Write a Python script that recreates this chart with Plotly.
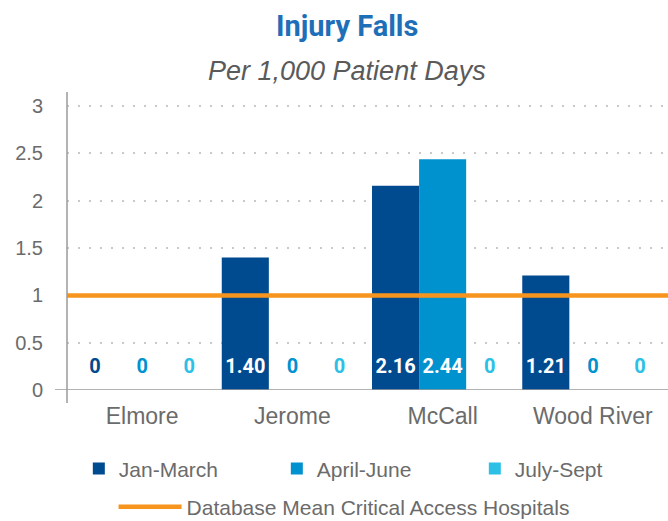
import plotly.graph_objects as go

# ---- data ----
categories = ["Elmore", "Jerome", "McCall", "Wood River"]
series_names = ["Jan-March", "April-June", "July-Sept"]
jan_march = [0, 1.40, 2.16, 1.21]
april_june = [0, 0, 2.44, 0]
july_sept = [0, 0, 0, 0]
mean_name = "Database Mean Critical Access Hospitals"
mean_value = 1.0
y_ticks = [0, 0.5, 1, 1.5, 2, 2.5, 3]
y_tick_labels = ["0", "0.5", "1", "1.5", "2", "2.5", "3"]

colors = ["#004a8f", "#0092cf", "#2dc0e6"]
series_values = [jan_march, april_june, july_sept]

label_font = "Liberation Sans Narrow, Arial Narrow, Roboto, sans-serif"
main_font = "Liberation Sans, Arial, Helvetica, sans-serif"
LABEL_Y = 0.235

fig = go.Figure()

for name, vals, col in zip(series_names, series_values, colors):
    fig.add_trace(go.Bar(
        name=name, x=categories, y=vals, marker=dict(color=col, line=dict(width=0)),
        offsetgroup=name, hoverinfo="skip", legend="legend",
    ))

for name, vals, col in zip(series_names, series_values, colors):
    fig.add_trace(go.Scatter(
        x=categories, y=[LABEL_Y] * len(vals), mode="text",
        text=[f"{v:.2f}" if v else "0" for v in vals],
        textposition="middle center",
        textfont=dict(family=label_font, size=20, weight="bold",
                      color=["#ffffff" if v else col for v in vals]),
        offsetgroup=name, showlegend=False, hoverinfo="skip",
    ))

fig.add_trace(go.Scatter(
    name=mean_name, x=[0, 1], y=[mean_value, mean_value], xaxis="x2",
    mode="lines", line=dict(color="#f7941d", width=4.5), hoverinfo="skip",
    legend="legend2",
))

fig.update_layout(
    width=668, height=521,
    margin=dict(l=67, r=0, t=92, b=131, autoexpand=False),
    paper_bgcolor="white", plot_bgcolor="white",
    barmode="group", bargap=0.06, bargroupgap=0,
    scattermode="group", scattergap=0.06,
    font=dict(family=main_font, color="#666666"),
    xaxis=dict(type="category", showgrid=False, zeroline=False, showline=False,
               ticks="outside", ticklen=5, tickcolor="rgba(0,0,0,0)",
               tickfont=dict(size=23, color="#6b6b6b")),
    xaxis2=dict(overlaying="x", range=[0, 1], visible=False, fixedrange=True),
    yaxis=dict(range=[0, 3.15], tickvals=y_ticks, ticktext=y_tick_labels,
               showgrid=True, gridcolor="#c9c9c9", gridwidth=1.5, griddash="2px,9px",
               zeroline=False, showline=False,
               ticks="outside", ticklen=19, tickcolor="rgba(0,0,0,0)",
               tickfont=dict(size=20, color="#6b6b6b")),
    showlegend=True,
    legend=dict(orientation="h", xref="container", x=0.118, xanchor="left",
                y=-0.265, yanchor="middle",
                font=dict(size=21, color="#6b6b6b"), entrywidth=153,
                entrywidthmode="pixels", bgcolor="rgba(0,0,0,0)", traceorder="normal"),
    legend2=dict(orientation="h", xref="container", x=0.17, xanchor="left",
                 y=-0.393, yanchor="middle", itemwidth=63,
                 font=dict(size=21, color="#6b6b6b"), bgcolor="rgba(0,0,0,0)"),
    shapes=[
        dict(type="line", xref="paper", yref="y", x0=-0.02, x1=1, y0=0, y1=0,
             line=dict(color="#9a9a9a", width=1.5), layer="above"),
        dict(type="line", xref="paper", yref="paper", x0=0, x1=0, y0=-0.044, y1=1,
             line=dict(color="#9a9a9a", width=1.5), layer="above"),
    ],
    annotations=[
        dict(text="Injury Falls", xref="paper", yref="paper", x=0.4667, y=1.2215,
             xanchor="center", yanchor="middle", showarrow=False,
             font=dict(family=label_font, size=29, weight="bold", color="#1f6fb8")),
        dict(text="<i>Per 1,000 Patient Days</i>", xref="paper", yref="paper",
             x=0.4667, y=1.0705, xanchor="center", yanchor="middle", showarrow=False,
             font=dict(family=main_font, size=27, color="#5a5a5a")),
    ],
)

fig.write_html("out.html", config={"displayModeBar": False},
               post_script="document.body.style.margin='0';")
